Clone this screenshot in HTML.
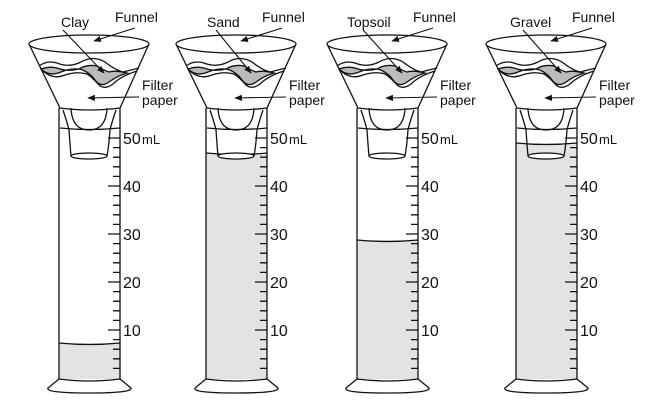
<!DOCTYPE html>
<html><head><meta charset="utf-8"><style>
html,body{margin:0;padding:0;background:#fff;width:649px;height:407px;overflow:hidden}
svg text{font-family:"Liberation Sans",Arial,sans-serif;fill:#111;stroke:none}
</style></head><body>
<svg width="649" height="407" viewBox="0 0 649 407" xmlns="http://www.w3.org/2000/svg">
<defs>
<marker id="ah" viewBox="0 0 10 10" refX="9" refY="5" markerWidth="7" markerHeight="7" orient="auto"><path d="M0,1 L10,5 L0,9 z" fill="#111"/></marker>
<g id="cyl" fill="none" stroke="#111" stroke-width="1.3">
  <line x1="0" y1="108" x2="0" y2="379"/>
  <line x1="61" y1="108" x2="61" y2="379"/>
  <path d="M49,330H61M49,282H61M49,234H61M49,186H61M49,138H61
  M54,368.4H61M54,358.8H61M54,349.2H61M54,339.6H61M54,320.4H61M54,310.8H61M54,301.2H61M54,291.6H61
  M54,272.4H61M54,262.8H61M54,253.2H61M54,243.6H61M54,224.4H61M54,214.8H61M54,205.2H61M54,195.6H61
  M54,176.4H61M54,166.8H61M54,157.2H61M54,147.6H61"/>
  <path d="M0,379 Q30,383 61,379 L72,388 Q74,393 30,393 Q-14,393 -11,388 Z" fill="#fff"/>
  <path d="M-30,44 L1,108 Q30,112 61,108 L90,44" fill="#fff"/>
  <ellipse cx="30" cy="44" rx="60" ry="9" fill="#fff"/>
  <!-- filter paper -->
  <path d="M-20,66 Q-12,60 -2,63 Q10,68 22,62 Q34,55 46,62 Q56,70 64,72 L80,68" fill="#fff"/>
  <path d="M-18,69 Q-10,77 2,72 Q14,67 24,70 Q32,74 36,80 Q42,88 50,82 Q58,76 68,73 Q56,70 50,72 Q44,70 38,66 Q28,64 20,69 Q8,72 -2,68 Q-10,66 -18,69 Z" fill="#bbb"/>
  <path d="M-16,71 Q-6,80 6,75 Q18,71 28,74 Q34,78 40,85 Q46,90 54,84 Q62,76 78,71"/>
  <path d="M12,108 Q13,130 30,130 Q47,130 48,108"/>
  <path d="M1,128 Q30,131 61,128"/>
  <path d="M4,110 Q9,125 10,130 Q11,145 12,156"/>
  <path d="M57,110 Q52,125 51,130 Q50,145 48,156"/>
  <ellipse cx="30" cy="156" rx="18" ry="3" fill="#fff"/>
</g>
</defs>

<rect x="59" y="343" width="61" height="36" fill="#e3e3e3"/>
<rect x="206" y="153" width="61" height="226" fill="#e3e3e3"/>
<rect x="357" y="240" width="61" height="139" fill="#e3e3e3"/>
<rect x="516" y="143" width="61" height="236" fill="#e3e3e3"/>
<path d="M59,343 Q90,346 120,343 M206,153 Q236,156 267,153 M357,240 Q387,243 418,240 M516,143 Q546,146 577,143" stroke="#111" stroke-width="1.3" fill="none"/>

<use href="#cyl" x="59"/>
<use href="#cyl" x="206"/>
<use href="#cyl" x="357"/>
<use href="#cyl" x="516"/>

<g font-size="16">
<g transform="translate(59,0)">
<text x="64" y="144">50</text><text x="83" y="144" font-size="13">mL</text>
<text x="64" y="192">40</text><text x="64" y="240">30</text><text x="64" y="288">20</text><text x="64" y="336">10</text>
</g>
<g transform="translate(206,0)">
<text x="64" y="144">50</text><text x="83" y="144" font-size="13">mL</text>
<text x="64" y="192">40</text><text x="64" y="240">30</text><text x="64" y="288">20</text><text x="64" y="336">10</text>
</g>
<g transform="translate(357,0)">
<text x="64" y="144">50</text><text x="83" y="144" font-size="13">mL</text>
<text x="64" y="192">40</text><text x="64" y="240">30</text><text x="64" y="288">20</text><text x="64" y="336">10</text>
</g>
<g transform="translate(516,0)">
<text x="64" y="144">50</text><text x="83" y="144" font-size="13">mL</text>
<text x="64" y="192">40</text><text x="64" y="240">30</text><text x="64" y="288">20</text><text x="64" y="336">10</text>
</g>
</g>

<g font-size="14">
<g transform="translate(59,0)">
<text x="2" y="27">Clay</text><text x="56" y="22">Funnel</text>
<text x="83" y="90">Filter</text><text x="83" y="105">paper</text>
<line x1="4" y1="30" x2="45" y2="73" stroke="#111" stroke-width="1.1" marker-end="url(#ah)"/>
<line x1="76" y1="28" x2="35" y2="41" stroke="#111" stroke-width="1.1" marker-end="url(#ah)"/>
<line x1="80" y1="97" x2="29" y2="98" stroke="#111" stroke-width="1.1" marker-end="url(#ah)"/>
</g>
<g transform="translate(206,0)">
<text x="1" y="27">Sand</text><text x="56" y="22">Funnel</text>
<text x="83" y="90">Filter</text><text x="83" y="105">paper</text>
<line x1="10" y1="30" x2="45" y2="73" stroke="#111" stroke-width="1.1" marker-end="url(#ah)"/>
<line x1="76" y1="28" x2="35" y2="41" stroke="#111" stroke-width="1.1" marker-end="url(#ah)"/>
<line x1="80" y1="97" x2="29" y2="98" stroke="#111" stroke-width="1.1" marker-end="url(#ah)"/>
</g>
<g transform="translate(357,0)">
<text x="-10" y="27">Topsoil</text><text x="56" y="22">Funnel</text>
<text x="83" y="90">Filter</text><text x="83" y="105">paper</text>
<line x1="6" y1="30" x2="45" y2="73" stroke="#111" stroke-width="1.1" marker-end="url(#ah)"/>
<line x1="76" y1="28" x2="35" y2="41" stroke="#111" stroke-width="1.1" marker-end="url(#ah)"/>
<line x1="80" y1="97" x2="29" y2="98" stroke="#111" stroke-width="1.1" marker-end="url(#ah)"/>
</g>
<g transform="translate(516,0)">
<text x="-6" y="27">Gravel</text><text x="56" y="22">Funnel</text>
<text x="83" y="90">Filter</text><text x="83" y="105">paper</text>
<line x1="7" y1="30" x2="45" y2="73" stroke="#111" stroke-width="1.1" marker-end="url(#ah)"/>
<line x1="76" y1="28" x2="35" y2="41" stroke="#111" stroke-width="1.1" marker-end="url(#ah)"/>
<line x1="80" y1="97" x2="29" y2="98" stroke="#111" stroke-width="1.1" marker-end="url(#ah)"/>
</g>
</g>
</svg>
</body></html>
